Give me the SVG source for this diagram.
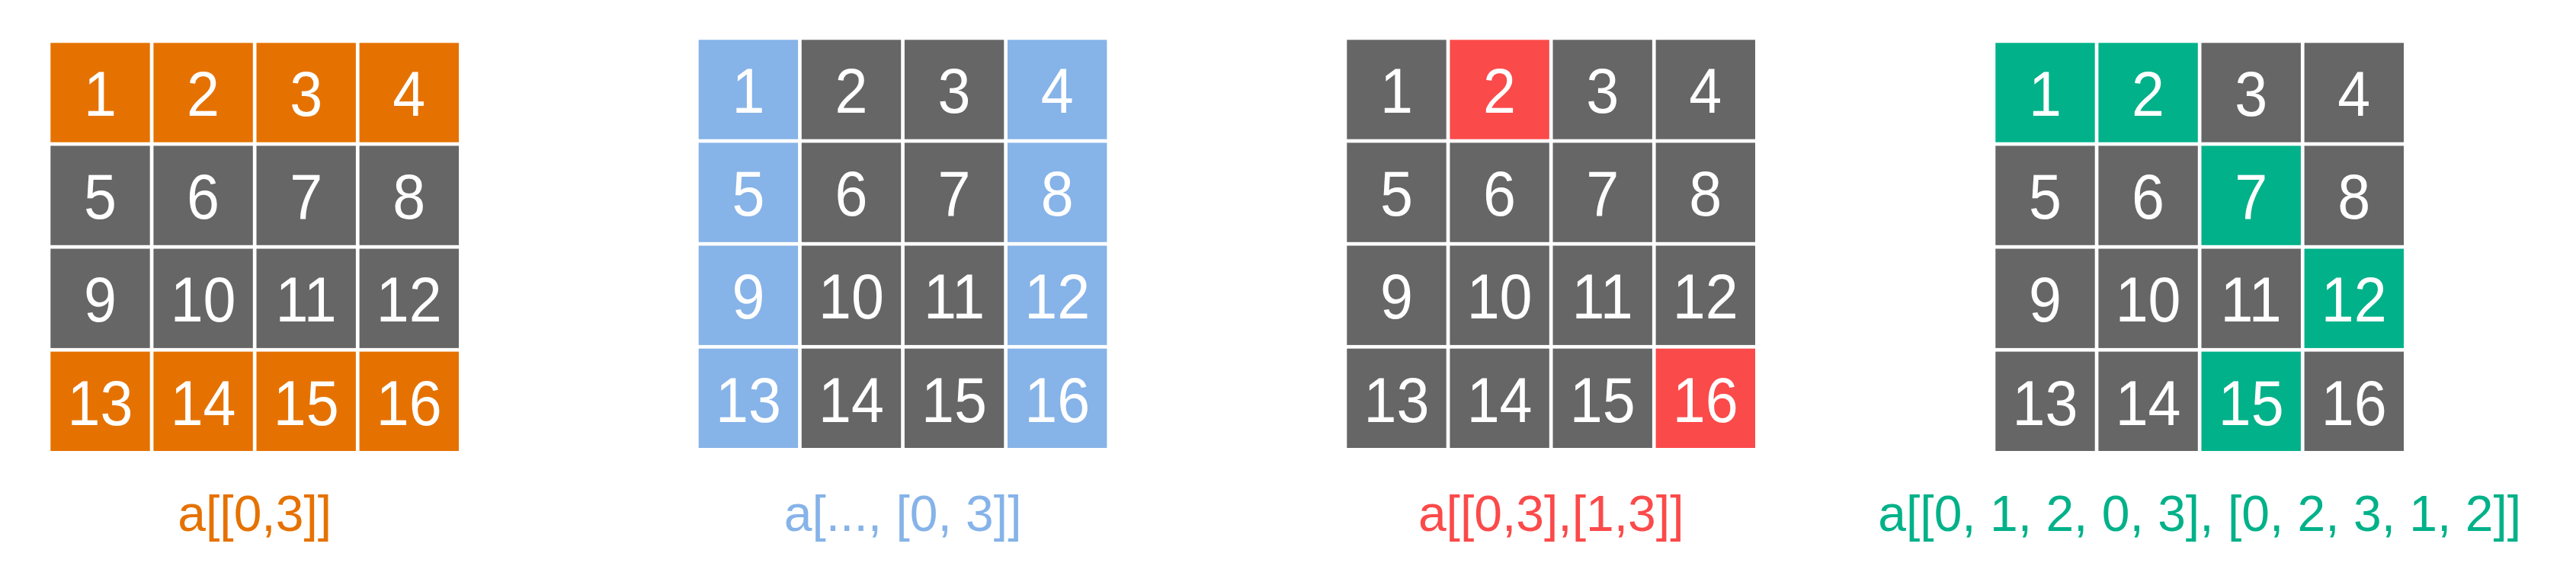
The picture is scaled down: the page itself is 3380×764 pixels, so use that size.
<svg xmlns="http://www.w3.org/2000/svg" width="3380" height="764" viewBox="0 0 3380 764">
<style>
.k{fill:#666666}.o{fill:#E57200}.b{fill:#86B3E8}.r{fill:#FB4A4A}.g{fill:#00B189}
.n{font-family:"Liberation Sans",Arial,sans-serif;font-size:84px;fill:#ffffff;text-anchor:middle;transform-box:fill-box;transform-origin:center;transform:scaleX(0.92)}
.l{font-family:"Liberation Sans",Arial,sans-serif;font-size:66px;text-anchor:middle}
</style>
<rect width="3380" height="764" fill="#ffffff"/>
<g id="panel1" transform="translate(66.3,56.3)">
<g id="p1-1"><rect class="o" x="0" y="0" width="130.4" height="130.4"/><text class="n" x="65.2" y="96">1</text></g>
<g id="p1-2"><rect class="o" x="135.1" y="0" width="130.4" height="130.4"/><text class="n" x="200.3" y="96">2</text></g>
<g id="p1-3"><rect class="o" x="270.2" y="0" width="130.4" height="130.4"/><text class="n" x="335.4" y="96">3</text></g>
<g id="p1-4"><rect class="o" x="405.3" y="0" width="130.4" height="130.4"/><text class="n" x="470.5" y="96">4</text></g>
<g id="p1-5"><rect class="k" x="0" y="135.1" width="130.4" height="130.4"/><text class="n" x="65.2" y="231.1">5</text></g>
<g id="p1-6"><rect class="k" x="135.1" y="135.1" width="130.4" height="130.4"/><text class="n" x="200.3" y="231.1">6</text></g>
<g id="p1-7"><rect class="k" x="270.2" y="135.1" width="130.4" height="130.4"/><text class="n" x="335.4" y="231.1">7</text></g>
<g id="p1-8"><rect class="k" x="405.3" y="135.1" width="130.4" height="130.4"/><text class="n" x="470.5" y="231.1">8</text></g>
<g id="p1-9"><rect class="k" x="0" y="270.2" width="130.4" height="130.4"/><text class="n" x="65.2" y="366.2">9</text></g>
<g id="p1-10"><rect class="k" x="135.1" y="270.2" width="130.4" height="130.4"/><text class="n" x="200.3" y="366.2">10</text></g>
<g id="p1-11"><rect class="k" x="270.2" y="270.2" width="130.4" height="130.4"/><text class="n" x="335.4" y="366.2">11</text></g>
<g id="p1-12"><rect class="k" x="405.3" y="270.2" width="130.4" height="130.4"/><text class="n" x="470.5" y="366.2">12</text></g>
<g id="p1-13"><rect class="o" x="0" y="405.3" width="130.4" height="130.4"/><text class="n" x="65.2" y="501.3">13</text></g>
<g id="p1-14"><rect class="o" x="135.1" y="405.3" width="130.4" height="130.4"/><text class="n" x="200.3" y="501.3">14</text></g>
<g id="p1-15"><rect class="o" x="270.2" y="405.3" width="130.4" height="130.4"/><text class="n" x="335.4" y="501.3">15</text></g>
<g id="p1-16"><rect class="o" x="405.3" y="405.3" width="130.4" height="130.4"/><text class="n" x="470.5" y="501.3">16</text></g>
</g>
<g id="panel2" transform="translate(916.7,52.3)">
<g id="p2-1"><rect class="b" x="0" y="0" width="130.4" height="130.4"/><text class="n" x="65.2" y="96">1</text></g>
<g id="p2-2"><rect class="k" x="135.1" y="0" width="130.4" height="130.4"/><text class="n" x="200.3" y="96">2</text></g>
<g id="p2-3"><rect class="k" x="270.2" y="0" width="130.4" height="130.4"/><text class="n" x="335.4" y="96">3</text></g>
<g id="p2-4"><rect class="b" x="405.3" y="0" width="130.4" height="130.4"/><text class="n" x="470.5" y="96">4</text></g>
<g id="p2-5"><rect class="b" x="0" y="135.1" width="130.4" height="130.4"/><text class="n" x="65.2" y="231.1">5</text></g>
<g id="p2-6"><rect class="k" x="135.1" y="135.1" width="130.4" height="130.4"/><text class="n" x="200.3" y="231.1">6</text></g>
<g id="p2-7"><rect class="k" x="270.2" y="135.1" width="130.4" height="130.4"/><text class="n" x="335.4" y="231.1">7</text></g>
<g id="p2-8"><rect class="b" x="405.3" y="135.1" width="130.4" height="130.4"/><text class="n" x="470.5" y="231.1">8</text></g>
<g id="p2-9"><rect class="b" x="0" y="270.2" width="130.4" height="130.4"/><text class="n" x="65.2" y="366.2">9</text></g>
<g id="p2-10"><rect class="k" x="135.1" y="270.2" width="130.4" height="130.4"/><text class="n" x="200.3" y="366.2">10</text></g>
<g id="p2-11"><rect class="k" x="270.2" y="270.2" width="130.4" height="130.4"/><text class="n" x="335.4" y="366.2">11</text></g>
<g id="p2-12"><rect class="b" x="405.3" y="270.2" width="130.4" height="130.4"/><text class="n" x="470.5" y="366.2">12</text></g>
<g id="p2-13"><rect class="b" x="0" y="405.3" width="130.4" height="130.4"/><text class="n" x="65.2" y="501.3">13</text></g>
<g id="p2-14"><rect class="k" x="135.1" y="405.3" width="130.4" height="130.4"/><text class="n" x="200.3" y="501.3">14</text></g>
<g id="p2-15"><rect class="k" x="270.2" y="405.3" width="130.4" height="130.4"/><text class="n" x="335.4" y="501.3">15</text></g>
<g id="p2-16"><rect class="b" x="405.3" y="405.3" width="130.4" height="130.4"/><text class="n" x="470.5" y="501.3">16</text></g>
</g>
<g id="panel3" transform="translate(1767.3,52.3)">
<g id="p3-1"><rect class="k" x="0" y="0" width="130.4" height="130.4"/><text class="n" x="65.2" y="96">1</text></g>
<g id="p3-2"><rect class="r" x="135.1" y="0" width="130.4" height="130.4"/><text class="n" x="200.3" y="96">2</text></g>
<g id="p3-3"><rect class="k" x="270.2" y="0" width="130.4" height="130.4"/><text class="n" x="335.4" y="96">3</text></g>
<g id="p3-4"><rect class="k" x="405.3" y="0" width="130.4" height="130.4"/><text class="n" x="470.5" y="96">4</text></g>
<g id="p3-5"><rect class="k" x="0" y="135.1" width="130.4" height="130.4"/><text class="n" x="65.2" y="231.1">5</text></g>
<g id="p3-6"><rect class="k" x="135.1" y="135.1" width="130.4" height="130.4"/><text class="n" x="200.3" y="231.1">6</text></g>
<g id="p3-7"><rect class="k" x="270.2" y="135.1" width="130.4" height="130.4"/><text class="n" x="335.4" y="231.1">7</text></g>
<g id="p3-8"><rect class="k" x="405.3" y="135.1" width="130.4" height="130.4"/><text class="n" x="470.5" y="231.1">8</text></g>
<g id="p3-9"><rect class="k" x="0" y="270.2" width="130.4" height="130.4"/><text class="n" x="65.2" y="366.2">9</text></g>
<g id="p3-10"><rect class="k" x="135.1" y="270.2" width="130.4" height="130.4"/><text class="n" x="200.3" y="366.2">10</text></g>
<g id="p3-11"><rect class="k" x="270.2" y="270.2" width="130.4" height="130.4"/><text class="n" x="335.4" y="366.2">11</text></g>
<g id="p3-12"><rect class="k" x="405.3" y="270.2" width="130.4" height="130.4"/><text class="n" x="470.5" y="366.2">12</text></g>
<g id="p3-13"><rect class="k" x="0" y="405.3" width="130.4" height="130.4"/><text class="n" x="65.2" y="501.3">13</text></g>
<g id="p3-14"><rect class="k" x="135.1" y="405.3" width="130.4" height="130.4"/><text class="n" x="200.3" y="501.3">14</text></g>
<g id="p3-15"><rect class="k" x="270.2" y="405.3" width="130.4" height="130.4"/><text class="n" x="335.4" y="501.3">15</text></g>
<g id="p3-16"><rect class="r" x="405.3" y="405.3" width="130.4" height="130.4"/><text class="n" x="470.5" y="501.3">16</text></g>
</g>
<g id="panel4" transform="translate(2618.3,56.3)">
<g id="p4-1"><rect class="g" x="0" y="0" width="130.4" height="130.4"/><text class="n" x="65.2" y="96">1</text></g>
<g id="p4-2"><rect class="g" x="135.1" y="0" width="130.4" height="130.4"/><text class="n" x="200.3" y="96">2</text></g>
<g id="p4-3"><rect class="k" x="270.2" y="0" width="130.4" height="130.4"/><text class="n" x="335.4" y="96">3</text></g>
<g id="p4-4"><rect class="k" x="405.3" y="0" width="130.4" height="130.4"/><text class="n" x="470.5" y="96">4</text></g>
<g id="p4-5"><rect class="k" x="0" y="135.1" width="130.4" height="130.4"/><text class="n" x="65.2" y="231.1">5</text></g>
<g id="p4-6"><rect class="k" x="135.1" y="135.1" width="130.4" height="130.4"/><text class="n" x="200.3" y="231.1">6</text></g>
<g id="p4-7"><rect class="g" x="270.2" y="135.1" width="130.4" height="130.4"/><text class="n" x="335.4" y="231.1">7</text></g>
<g id="p4-8"><rect class="k" x="405.3" y="135.1" width="130.4" height="130.4"/><text class="n" x="470.5" y="231.1">8</text></g>
<g id="p4-9"><rect class="k" x="0" y="270.2" width="130.4" height="130.4"/><text class="n" x="65.2" y="366.2">9</text></g>
<g id="p4-10"><rect class="k" x="135.1" y="270.2" width="130.4" height="130.4"/><text class="n" x="200.3" y="366.2">10</text></g>
<g id="p4-11"><rect class="k" x="270.2" y="270.2" width="130.4" height="130.4"/><text class="n" x="335.4" y="366.2">11</text></g>
<g id="p4-12"><rect class="g" x="405.3" y="270.2" width="130.4" height="130.4"/><text class="n" x="470.5" y="366.2">12</text></g>
<g id="p4-13"><rect class="k" x="0" y="405.3" width="130.4" height="130.4"/><text class="n" x="65.2" y="501.3">13</text></g>
<g id="p4-14"><rect class="k" x="135.1" y="405.3" width="130.4" height="130.4"/><text class="n" x="200.3" y="501.3">14</text></g>
<g id="p4-15"><rect class="g" x="270.2" y="405.3" width="130.4" height="130.4"/><text class="n" x="335.4" y="501.3">15</text></g>
<g id="p4-16"><rect class="k" x="405.3" y="405.3" width="130.4" height="130.4"/><text class="n" x="470.5" y="501.3">16</text></g>
</g>
<g id="labels">
<text id="label1" class="l" x="334.2" y="697" fill="#E57200">a[[0,3]]</text>
<text id="label2" class="l" x="1184.6" y="697" fill="#86B3E8">a[..., [0, 3]]</text>
<text id="label3" class="l" x="2035.2" y="697" fill="#FB4A4A">a[[0,3],[1,3]]</text>
<text id="label4" class="l" x="2886.2" y="697" fill="#00B189">a[[0, 1, 2, 0, 3], [0, 2, 3, 1, 2]]</text>
</g>
<g id="connectors"/>
</svg>
